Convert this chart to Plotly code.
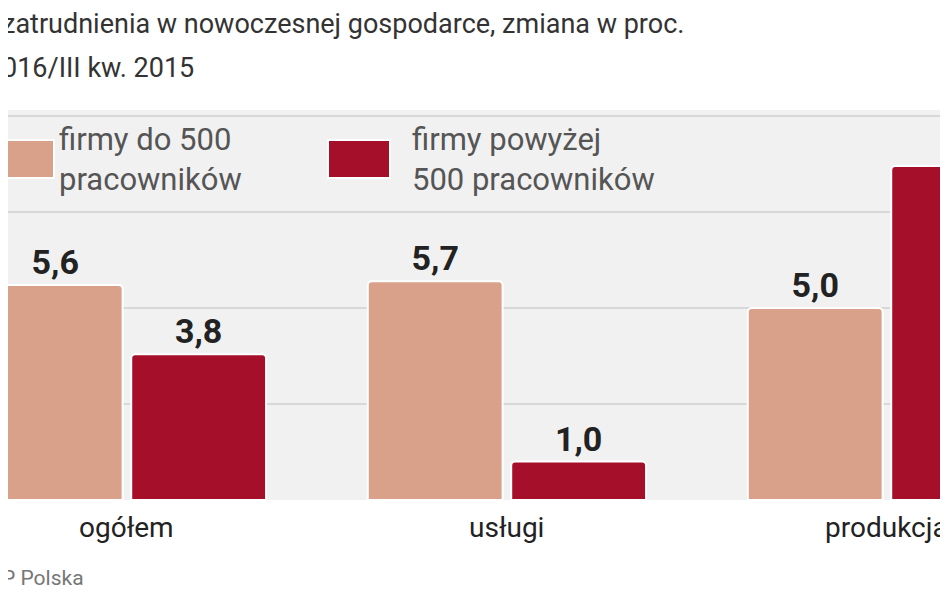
import plotly.graph_objects as go

categories = ["ogółem", "usługi", "produkcja"]
small_firms = [5.6, 5.7, 5.0]
large_firms = [3.8, 1.0, 8.7]

W, H = 948, 593
OFF = 8  # page body margin
FONT = "Liberation Sans Narrow, Roboto, Arial"


def px(x):
    return (x - OFF) / W


def py(y):
    return 1 - (y - OFF) / H


def pl(vals):
    return [f"<b>{v:.1f}</b>".replace(".", ",") for v in vals]


fig = go.Figure()
for name, vals, color in [
    ("firmy do 500 pracowników", small_firms, "#d9a08a"),
    ("firmy powyżej 500 pracowników", large_firms, "#a50f2a"),
]:
    fig.add_trace(go.Bar(
        x=categories, y=vals, name=name,
        marker=dict(color=color, line=dict(color="white", width=2), cornerradius=4),
        text=pl(vals), textposition="outside", cliponaxis=False,
        textfont=dict(family=FONT, size=34, color="#222"),
    ))

fig.update_layout(
    width=W, height=H, margin=dict(l=0, r=0, t=0, b=0),
    paper_bgcolor="white", plot_bgcolor="#f1f1f1",
    barmode="group", bargap=0.245, bargroupgap=0.06,
    showlegend=False,
    xaxis=dict(range=[-0.334 + OFF / 380, -0.334 + (OFF + W) / 380],
               showticklabels=False, showgrid=False, zeroline=False),
    yaxis=dict(domain=[py(500), py(110)], range=[0, 10.16], showticklabels=False,
               dtick=2.5, gridcolor="#d8d8d8", gridwidth=1.5, zeroline=False),
    font=dict(family=FONT, color="#333"),
)

# category labels under bars
for i, c in enumerate(categories):
    fig.add_annotation(x=i, y=py(527), xref="x", yref="paper", text=c,
                       showarrow=False, yanchor="middle",
                       font=dict(size=28, color="#222"))

# title lines and source
fig.add_annotation(x=px(0), y=py(24), xref="paper", yref="paper", xanchor="left",
                   yanchor="middle",
                   text="zatrudnienia w nowoczesnej gospodarce, zmiana w proc.",
                   showarrow=False, font=dict(size=27, color="#333"))
fig.add_annotation(x=px(0), y=py(68), xref="paper", yref="paper", xanchor="left",
                   yanchor="middle", text="016/III kw. 2015", showarrow=False,
                   font=dict(size=27, color="#333"))
fig.add_annotation(x=px(0), y=py(578), xref="paper", yref="paper", xanchor="left",
                   yanchor="middle", text="P Polska", showarrow=False,
                   font=dict(size=21, color="#777"))

# legend drawn by hand
legend = [("firmy do 500<br>pracowników", "#d9a08a", -8, 57),
          ("firmy powyżej<br>500 pracowników", "#a50f2a", 328, 410)]
for text, color, x0, tx in legend:
    fig.add_shape(type="rect", xref="paper", yref="paper",
                  x0=px(x0), x1=px(x0 + 62), y0=py(178), y1=py(140),
                  fillcolor=color, line=dict(color="white", width=2))
    fig.add_annotation(x=px(tx), y=py(160), xref="paper", yref="paper",
                       xanchor="left", yanchor="middle", align="left",
                       text=text, showarrow=False,
                       font=dict(size=31, color="#555"))

fig.write_html("out.html")
